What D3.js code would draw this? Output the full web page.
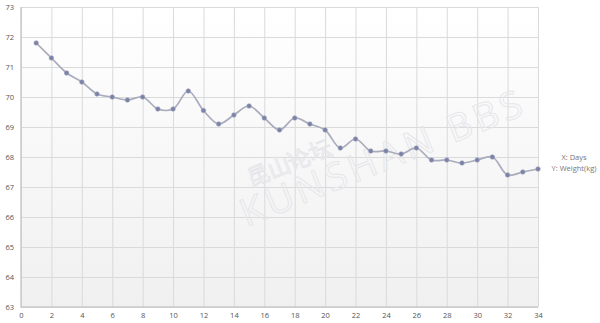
<!DOCTYPE html>
<html>
<head>
<meta charset="utf-8">
<script src="https://cdn.jsdelivr.net/npm/d3@7"></script>
<style>
  body { margin: 0; background: #fff; }
  text { font-family: "Open Sans", "DejaVu Sans", sans-serif; }
</style>
</head>
<body>
<div id="chart"></div>
<script>
const days = d3.range(1, 35);
const weights = [71.8, 71.3, 70.8, 70.5, 70.1, 70.0, 69.9, 70.0, 69.6, 69.6,
                 70.2, 69.55, 69.1, 69.4, 69.7, 69.3, 68.9, 69.3, 69.1, 68.9,
                 68.3, 68.6, 68.2, 68.2, 68.1, 68.3, 67.9, 67.9, 67.8, 67.9,
                 68.0, 67.4, 67.5, 67.6];
const xTicks = d3.range(0, 35, 2);
const yTicks = d3.range(63, 74, 1);
const legendLines = ["X: Days", "Y: Weight(kg)"];

const width = 600, height = 323;
const margin = { top: 7, right: 62, bottom: 16, left: 21 };

const x = d3.scaleLinear().domain([0, 34]).range([margin.left, width - margin.right]);
const y = d3.scaleLinear().domain([63, 73]).range([height - margin.bottom, margin.top]);

const svg = d3.select("#chart").append("svg")
    .attr("width", width).attr("height", height)
    .attr("viewBox", [0, 0, width, height]);

const defs = svg.append("defs");
const grad = defs.append("linearGradient").attr("id", "bg")
    .attr("x1", 0).attr("y1", 0).attr("x2", 0).attr("y2", 1);
grad.append("stop").attr("offset", "0%").attr("stop-color", "#ffffff");
grad.append("stop").attr("offset", "100%").attr("stop-color", "#f0f0f0");

svg.append("rect")
    .attr("x", x(0)).attr("y", y(73))
    .attr("width", x(34) - x(0)).attr("height", y(63) - y(73))
    .attr("fill", "url(#bg)");

// grid
svg.append("g")
    .attr("transform", `translate(0,${y(63)})`)
    .call(d3.axisBottom(x).tickValues(xTicks).tickSize(-(y(63) - y(73))).tickFormat(""))
    .call(g => g.select(".domain").remove())
    .call(g => g.selectAll(".tick line").attr("stroke", "#dadada"));

svg.append("g")
    .attr("transform", `translate(${x(0)},0)`)
    .call(d3.axisLeft(y).tickValues(yTicks).tickSize(-(x(34) - x(0))).tickFormat(""))
    .call(g => g.select(".domain").remove())
    .call(g => g.selectAll(".tick line").attr("stroke", "#dadada"));

// axis frame
svg.append("path")
    .attr("d", `M${x(0)},${y(73)}V${y(63)}H${x(34)}`)
    .attr("fill", "none").attr("stroke", "#cacaca").attr("stroke-width", 1.5);

// tick labels
svg.append("g")
    .attr("transform", `translate(0,${y(63)})`)
    .call(d3.axisBottom(x).tickValues(xTicks).tickSize(0).tickPadding(6))
    .call(g => g.select(".domain").remove())
    .call(g => g.selectAll("text").attr("fill", "#555").style("font-size", "7.5px"));

svg.append("g")
    .attr("transform", `translate(${x(0)},0)`)
    .call(d3.axisLeft(y).tickValues(yTicks).tickSize(0).tickPadding(7))
    .call(g => g.select(".domain").remove())
    .call(g => g.selectAll("text").attr("fill", "#555").style("font-size", "7.5px"));

// watermark
const wm = svg.append("g")
    .attr("transform", `translate(${x(15.5)},${y(66.6)}) rotate(-22)`)
    .attr("fill", "none").attr("stroke", "#e6e6ea").attr("stroke-width", 1);
wm.append("text").attr("x", 0).attr("y", -14).text("昆山论坛")
    .style("font-size", "22px").attr("font-family", "Noto Sans CJK SC");
wm.append("text").attr("x", -20).attr("y", 22).text("KUNSHAN BBS")
    .style("font-size", "38px").style("letter-spacing", "4px");

// line
const data = days.map((d, i) => ({ day: d, w: weights[i] }));
const line = d3.line().x(d => x(d.day)).y(d => y(d.w)).curve(d3.curveCatmullRom.alpha(0.5));

svg.append("path")
    .datum(data)
    .attr("d", line)
    .attr("fill", "none")
    .attr("stroke", "#a9acbd")
    .attr("stroke-width", 1.7);

svg.append("g")
    .selectAll("circle")
    .data(data)
    .join("circle")
    .attr("cx", d => x(d.day))
    .attr("cy", d => y(d.w))
    .attr("r", 2.3)
    .attr("fill", "#7c82a6")
    .attr("stroke", "#a0a4bc")
    .attr("stroke-width", 0.6);

// legend
svg.append("g")
    .selectAll("text")
    .data(legendLines)
    .join("text")
    .attr("x", 574)
    .attr("y", (d, i) => 160 + i * 10.5)
    .attr("text-anchor", "middle")
    .attr("fill", "#777")
    .attr("font-family", "Liberation Sans, Arial, sans-serif")
    .style("font-size", "7.5px")
    .text(d => d);
</script>
</body>
</html>
